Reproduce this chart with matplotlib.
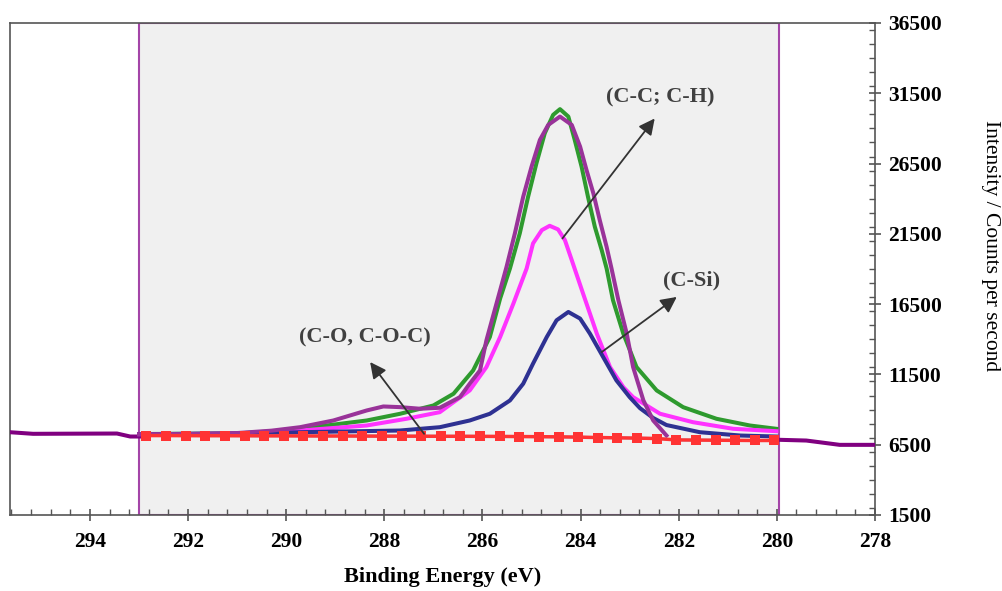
import numpy as np
import matplotlib
matplotlib.use("Agg")
import matplotlib.pyplot as plt
from matplotlib.ticker import MultipleLocator

plt.rcParams['font.family'] = ['Liberation Serif', 'DejaVu Serif']

# binding energy (eV) / counts per second
env_x = [293.0, 292.0, 291.0, 290.3, 289.72, 289.04, 288.36, 288.02, 287.68, 287.27,
         286.87, 286.46, 286.26, 286.05, 285.92, 285.64, 285.51, 285.34, 285.17, 285.0,
         284.83, 284.66, 284.42, 284.18, 284.01, 283.88, 283.74, 283.61, 283.47, 283.37,
         283.23, 283.06, 282.93, 282.72, 282.52, 282.25]
env_y = [7250, 7260, 7330, 7500, 7746, 8223, 8936, 9221, 9173, 9058,
         9128, 9884, 10839, 11787, 13926, 17490, 19150, 21531, 24140, 26278,
         28182, 29251, 29842, 29251, 27704, 26043, 24382, 22479, 20576, 19036,
         16777, 14403, 12023, 9649, 8223, 7154]

green_x = [293.0, 291.0, 290.3, 289.72, 288.36, 287.68, 287.0, 286.59, 286.19, 285.85,
           285.64, 285.44, 285.24, 285.07, 284.90, 284.73, 284.56, 284.42, 284.25, 284.12,
           283.98, 283.85, 283.71, 283.57, 283.47, 283.34, 283.13, 282.86, 282.45, 281.91,
           281.23, 280.55, 280.01]
green_y = [7260, 7300, 7450, 7631, 8223, 8700, 9292, 10126, 11787, 14160,
           16900, 19036, 21531, 24140, 26521, 28659, 29964, 30370, 29842, 28182,
           26278, 24140, 22002, 20341, 19036, 16777, 14403, 12023, 10362, 9171,
           8344, 7867, 7632]

mag_x = [293.0, 291.0, 289.72, 288.36, 287.55, 286.87, 286.26, 285.92, 285.64, 285.37,
         285.10, 284.97, 284.79, 284.63, 284.46, 284.32, 284.18, 283.95, 283.67, 283.40,
         283.13, 282.93, 282.38, 281.71, 280.89, 280.01]
mag_y = [7250, 7280, 7510, 7867, 8344, 8815, 10362, 12023, 14161, 16542,
         19036, 20818, 21766, 22073, 21816, 21054, 19628, 17254, 14403, 12023,
         10597, 9884, 8701, 8102, 7632, 7461]

blue_x = [293.0, 291.0, 289.72, 287.68, 286.87, 286.26, 285.85, 285.44, 285.17, 284.97,
          284.69, 284.49, 284.25, 284.01, 283.81, 283.54, 283.27, 283.0, 282.79, 282.52,
          282.25, 281.57, 280.75, 280.01]
blue_y = [7250, 7300, 7389, 7510, 7746, 8223, 8701, 9649, 10839, 12265,
          14161, 15351, 15943, 15472, 14403, 12735, 11074, 9884, 9100, 8400,
          7900, 7389, 7154, 7083]

base_x = [292.85, 292.45, 292.05, 291.65, 291.25, 290.85, 290.45, 290.05, 289.65, 289.25,
          288.85, 288.45, 288.05, 287.65, 287.25, 286.85, 286.45, 286.05, 285.65, 285.25,
          284.85, 284.45, 284.05, 283.65, 283.25, 282.85, 282.45, 282.05, 281.65, 281.25,
          280.85, 280.45, 280.05]
base_y = [7150, 7150, 7145, 7140, 7140, 7135, 7130, 7130, 7125, 7120,
          7120, 7115, 7110, 7110, 7105, 7100, 7100, 7095, 7090, 7080,
          7070, 7060, 7040, 7010, 6990, 6970, 6940, 6840, 6830, 6820,
          6810, 6800, 6800]

left_x = [295.63, 295.16, 293.45, 293.18, 293.0]
left_y = [7389, 7275, 7296, 7083, 7083]
right_x = [279.94, 279.40, 279.13, 278.72, 278.0]
right_y = [6848, 6797, 6676, 6490, 6490]

y_ticks = [1500, 6500, 11500, 16500, 21500, 26500, 31500, 36500]
x_ticks = [294, 292, 290, 288, 286, 284, 282, 280, 278]

labels = ["(C-C; C-H)", "(C-Si)", "(C-O, C-O-C)"]
label_xy = [(282.38, 31197), (281.74, 18202), (288.39, 14162)]
arrow_tail = [(284.37, 21175), (283.57, 13092), (287.19, 7275)]
arrow_head = [(282.49, 29707), (282.04, 17012), (288.29, 12379)]

fig = plt.figure(figsize=(10.03, 5.91), dpi=100)
ax = fig.add_axes([0.00997, 0.1286, 0.8624, 0.8325])

ax.axvspan(293.0, 279.95, facecolor='#f0f0f0', edgecolor='#a445a8', lw=1.5, zorder=0)

lw = 2.9
ax.plot(left_x, left_y, color='#800080', lw=lw, zorder=3)
ax.plot(right_x, right_y, color='#800080', lw=lw, zorder=3)
ax.plot(green_x, green_y, color='#2e9a2e', lw=lw, zorder=3)
ax.plot(mag_x, mag_y, color='#ff33ff', lw=lw, zorder=3)
ax.plot(blue_x, blue_y, color='#2e3192', lw=lw, zorder=3)
ax.plot(env_x, env_y, color='#993399', lw=lw, zorder=4)
ax.plot(base_x, base_y, color='#66ccee', lw=2, zorder=4)
ax.plot(base_x, base_y, color='#ff3333', lw=2.5, marker='s', markersize=7,
        markeredgewidth=0, zorder=5)

for txt, xy, tail, head in zip(labels, label_xy, arrow_tail, arrow_head):
    ax.text(xy[0], xy[1], txt, ha='center', va='center', fontsize=16,
            fontweight='bold', color='#404040', zorder=6)
    ax.annotate('', xy=head, xytext=tail,
                arrowprops=dict(arrowstyle='-|>', color='#333333', lw=1.3,
                                mutation_scale=24, shrinkA=0, shrinkB=0),
                zorder=6)

ax.set_xlim(295.63, 278.0)
ax.set_ylim(1500, 36500)
ax.set_xticks(x_ticks)
ax.set_xticklabels([str(v) for v in x_ticks])
ax.xaxis.set_minor_locator(MultipleLocator(0.4))
ax.set_yticks(y_ticks)
ax.set_yticklabels([str(v) for v in y_ticks])
ax.yaxis.set_minor_locator(MultipleLocator(1000))
ax.yaxis.tick_right()
ax.yaxis.set_label_position('right')

for s in ax.spines.values():
    s.set_color('#555555')
    s.set_linewidth(1.2)

ax.tick_params(axis='both', which='major', direction='inout', length=9,
               width=1.2, color='#555555', labelsize=15.5)
ax.tick_params(axis='both', which='minor', direction='in', length=4,
               width=1.0, color='#555555')
ax.tick_params(axis='x', which='major', pad=8)
ax.tick_params(axis='y', which='major', pad=5)
for t in ax.get_xticklabels() + ax.get_yticklabels():
    t.set_fontweight('bold')

ax.set_xlabel('Binding Energy (eV)', fontsize=16, fontweight='bold')
ax.xaxis.set_label_coords(0.5, -0.105)
ax.set_ylabel('Intensity / Counts per second', fontsize=15.5, rotation=270,
              va='center', ha='center')
ax.yaxis.set_label_coords(1.133, 0.547)

fig.savefig('out.png', dpi=100)
